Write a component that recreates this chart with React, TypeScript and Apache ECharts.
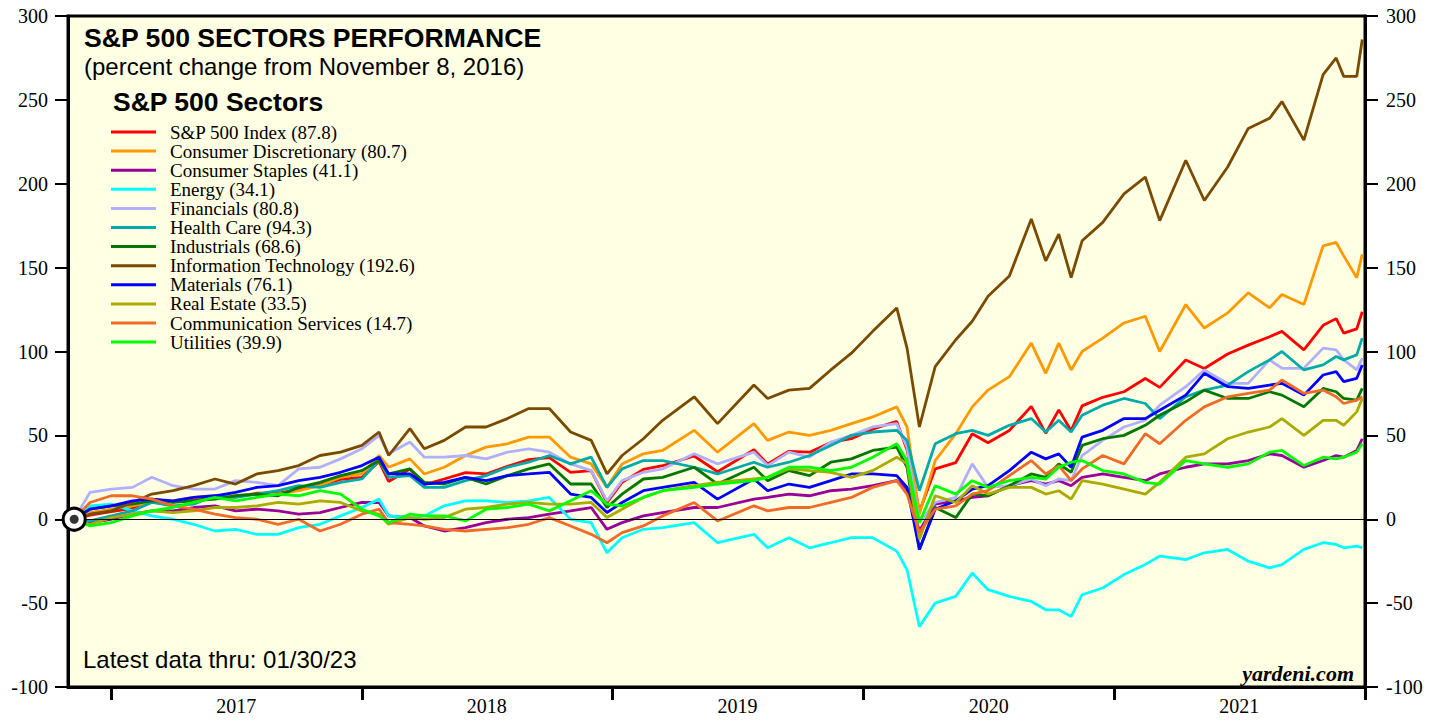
import React, { useEffect, useRef } from "react";
import * as echarts from "echarts";

const DATES = [
  "2016-11-08","2016-12-01","2017-01-01","2017-02-01","2017-03-01","2017-04-01","2017-05-01","2017-06-01","2017-07-01","2017-08-01","2017-09-01","2017-10-01","2017-11-01","2017-12-01",
  "2018-01-01","2018-01-26","2018-02-09","2018-03-12","2018-04-02","2018-05-01","2018-06-01","2018-07-01","2018-08-01","2018-09-01","2018-10-01","2018-11-01","2018-12-01","2018-12-24",
  "2019-01-15","2019-02-15","2019-03-15","2019-04-30","2019-06-03","2019-07-26","2019-08-15","2019-09-15","2019-10-15","2019-11-15","2019-12-15",
  "2020-01-15","2020-02-19","2020-03-05","2020-03-23","2020-04-15","2020-05-15","2020-06-08","2020-07-01","2020-08-01","2020-09-02","2020-09-23","2020-10-12","2020-10-30","2020-11-15","2020-12-15",
  "2021-01-15","2021-02-15","2021-03-08","2021-04-15","2021-05-12","2021-06-15","2021-07-15","2021-08-15","2021-09-02","2021-10-04","2021-11-01","2021-11-20","2021-12-01","2021-12-20","2021-12-28",
];

const SECTORS = [
  "S&P 500 Index","Consumer Discretionary","Consumer Staples","Energy","Financials","Health Care",
  "Industrials","Information Technology","Materials","Real Estate","Communication Services","Utilities",
];
const LEGEND_VALUES = [87.8, 80.7, 41.1, 34.1, 80.8, 94.3, 68.6, 192.6, 76.1, 33.5, 14.7, 39.9];
const COLORS = ["#ff0000","#ff9900","#990099","#00ffff","#b0b0ff","#00aaaa","#007700","#7a4a00","#0000ff","#aaaa00","#f06a28","#00ff00"];

const SP500 = [
  0, 2.4, 4.6, 6.5, 12, 10.4, 11.4, 12.7, 13.3, 15.5, 15.5, 17.7, 20.4, 23.8,
  25, 34.3, 22.5, 30, 20.7, 24, 27.8, 27, 31.5, 35.6, 36.7, 28, 29, 9.9,
  22, 29.7, 31.9, 37.7, 28.3, 41.4, 33, 40.5, 40, 45.8, 48,
  53.7, 58.3, 41.3, 4.5, 30, 33.8, 51, 45.6, 52.9, 67.3, 51.3, 65.2, 52.8, 67.6, 72.7,
  76, 83.9, 78.6, 94.9, 89.9, 98.5, 103.8, 108.8, 112, 101, 115.6, 119.6, 111, 113.5, 123.7,
];
const CONS_DISC = [
  0, 4, 6, 8, 10, 11, 13, 14, 14, 15, 15, 17, 20, 25,
  27, 38, 31, 36, 27, 31, 38, 43, 45, 49, 49, 37, 33, 19,
  33, 39, 41, 53, 40, 57, 47, 52, 50, 53, 57,
  61, 67, 55, 3, 35, 51, 67, 77, 85, 105, 87, 105, 89, 100, 108,
  117, 121, 100, 128, 114, 123, 135, 126, 134, 128, 163, 165, 157, 144, 158,
];
const CONS_STAPLES = [
  0, -2, 0, 3, 5, 5, 7, 8, 5, 6, 5, 3, 4, 7,
  10, 10, 2, 1, -4, -7, -5, -2, 0, 1, 3, 5, 7, -6,
  -2, 2, 4, 7, 7, 12, 13, 15, 14, 17, 18,
  20, 23, 18, -7, 9, 11, 13, 14, 20, 23, 21, 23, 20, 25, 27,
  25, 23, 27, 31, 33, 33, 35, 39, 38, 31, 35, 38, 37, 41, 48,
];
const ENERGY = [
  0, 8, 9, 5, 2, 0, -3, -7, -6, -9, -9, -5, -3, 2,
  7, 12, 2, 1, 2, 8, 11, 11, 10, 11, 13, 0, -2, -20,
  -11, -6, -5, -2, -14, -9, -17, -11, -17, -14, -11,
  -11, -19, -30, -64, -50, -46, -32, -42, -46, -49, -54, -54, -58, -45, -41,
  -33, -27, -22, -24, -20, -18, -25, -29, -27, -18, -14, -15, -17, -16, -17,
];
const FINANCIALS = [
  0, 16, 18, 19, 25, 20, 18, 18, 23, 22, 20, 30, 31, 36,
  42, 50, 39, 46, 37, 37, 38, 36, 40, 42, 40, 33, 29, 11,
  23, 28, 30, 39, 33, 40, 32, 40, 37, 46, 50,
  55, 57, 43, -2, 10, 13, 33, 19, 20, 24, 20, 24, 23, 38, 47,
  55, 59, 68, 79, 89, 81, 81, 95, 90, 90, 102, 101, 95, 89, 96,
];
const HEALTH_CARE = [
  0, -1, 2, 5, 10, 8, 9, 14, 13, 15, 17, 20, 19, 22,
  24, 35, 25, 26, 19, 19, 23, 26, 31, 34, 38, 33, 37, 19,
  30, 35, 35, 31, 27, 34, 31, 34, 38, 44, 50,
  52, 53, 47, 17, 45, 51, 53, 50, 56, 60, 52, 59, 52, 62, 68,
  72, 69, 60, 73, 77, 80, 88, 95, 100, 89, 92, 97, 95, 98, 108,
];
const INDUSTRIALS = [
  0, 6, 8, 9, 11, 10, 11, 12, 14, 15, 14, 19, 22, 26,
  29, 35, 27, 30, 22, 21, 25, 21, 26, 30, 33, 21, 21, 7,
  15, 24, 25, 31, 21, 31, 23, 29, 26, 34, 36,
  41, 43, 31, -18, 7, 1, 15, 14, 20, 27, 25, 33, 28, 44, 48,
  50, 56, 62, 70, 77, 72, 72, 76, 74, 67, 78, 76, 72, 71, 78,
];
const INFO_TECH = [
  0, 3, 5, 10, 15, 17, 20, 24, 21, 27, 29, 32, 38, 40,
  44, 52, 38, 54, 42, 47, 55, 55, 60, 66, 66, 52, 47, 27,
  38, 48, 59, 73, 57, 80, 72, 77, 78, 89, 99,
  112, 126, 102, 55, 91, 107, 118, 133, 145, 179, 154, 170, 144, 166, 177,
  194, 204, 178, 214, 190, 210, 233, 239, 249, 226, 265, 275, 264, 264, 286,
];
const MATERIALS = [
  0, 6, 8, 11, 12, 11, 13, 14, 16, 19, 20, 23, 25, 28,
  32, 37, 27, 27, 21, 22, 25, 23, 26, 27, 28, 15, 13, 4,
  10, 17, 19, 22, 12, 24, 17, 21, 19, 23, 27,
  27, 26, 19, -18, 6, 11, 18, 20, 29, 40, 36, 39, 31, 49, 53,
  60, 60, 65, 74, 87, 79, 78, 80, 81, 74, 86, 88, 82, 84, 92,
];
const REAL_ESTATE = [
  0, -3, 1, 3, 5, 4, 5, 7, 7, 8, 10, 9, 11, 10,
  5, 3, -3, 1, 0, 1, 6, 7, 9, 10, 9, 9, 10, 1,
  6, 13, 17, 20, 22, 24, 25, 30, 29, 28, 25,
  29, 37, 33, -12, 14, 10, 20, 15, 19, 19, 15, 17, 12, 23, 21,
  18, 15, 22, 37, 39, 48, 52, 55, 60, 50, 59, 59, 56, 64, 72,
];
const COMM_SERVICES = [
  0, 10, 14, 14, 12, 8, 6, 3, 1, 0, -3, 0, -7, -3,
  3, 6, -2, -3, -4, -6, -7, -6, -5, -3, 1, -4, -9, -14,
  -8, -4, 2, 10, -1, 8, 5, 7, 7, 10, 13,
  19, 23, 15, -8, 6, 8, 15, 17, 26, 35, 27, 32, 23, 30, 38,
  33, 51, 45, 59, 67, 73, 75, 77, 83, 75, 77, 73, 69, 71, 73,
];
const UTILITIES = [
  0, -4, -2, 2, 5, 7, 10, 13, 11, 13, 15, 14, 17, 15,
  6, 2, -2, 3, 2, 2, -1, 6, 7, 9, 5, 11, 17, 9,
  8, 13, 17, 19, 21, 23, 25, 31, 31, 29, 31,
  37, 45, 35, -2, 20, 15, 23, 19, 23, 25, 24, 31, 34, 35, 29,
  27, 22, 21, 35, 33, 31, 33, 40, 41, 32, 37, 36, 37, 40, 45,
];

const SERIES_VALUES = [
  SP500, CONS_DISC, CONS_STAPLES, ENERGY, FINANCIALS, HEALTH_CARE,
  INDUSTRIALS, INFO_TECH, MATERIALS, REAL_ESTATE, COMM_SERVICES, UTILITIES,
];

const X_MIN = "2016-10-30";
const X_MAX = "2022-01-01";
const YEAR_TICKS = ["2017-01-01","2018-01-01","2019-01-01","2020-01-01","2021-01-01","2022-01-01"];
const YEAR_LABEL_POS = ["2017-07-02","2018-07-02","2019-07-02","2020-07-02","2021-07-02"];
const Y_MIN = -100;
const Y_MAX = 300;
const Y_STEP = 50;

const ts = (s: string) => new Date(s + "T00:00:00Z").getTime();

export default function App() {
  const ref = useRef<HTMLDivElement>(null);
  useEffect(() => {
    if (!ref.current) return;
    const chart = echarts.init(ref.current, undefined, { renderer: "svg" });
    const serif = "Liberation Serif";
    const sans = "Liberation Sans";
    const yAxisBase = {
      type: "value",
      min: Y_MIN,
      max: Y_MAX,
      interval: Y_STEP,
      splitLine: { show: false },
      axisLine: { show: true, onZero: false, lineStyle: { color: "#000", width: 3 } },
      axisTick: { show: true, inside: false, length: 13, lineStyle: { color: "#000", width: 2 } },
    };
    const lineSeries = SECTORS.map((name, i) => ({
      name,
      type: "line",
      data: DATES.map((d, j) => [ts(d), SERIES_VALUES[i][j]]),
      showSymbol: false,
      symbol: "none",
      color: COLORS[i],
      lineStyle: { width: 2.8, color: COLORS[i] },
      itemStyle: { color: COLORS[i] },
      emphasis: { disabled: true },
      z: 3,
    }));
    const option: any = {
      animation: false,
      backgroundColor: "#ffffff",
      grid: {
        left: 68, right: 75, top: 16, bottom: 34,
        show: true, backgroundColor: "#ffffe3", borderColor: "#000", borderWidth: 3,
      },
      xAxis: {
        type: "value",
        min: ts(X_MIN),
        max: ts(X_MAX),
        splitLine: { show: false },
        axisLine: { show: true, onZero: false, lineStyle: { color: "#000", width: 3 } },
        axisTick: {
          show: true, inside: false, length: 13,
          lineStyle: { color: "#000", width: 3 },
          customValues: YEAR_TICKS.map(ts),
        },
        axisLabel: {
          show: true,
          customValues: YEAR_LABEL_POS.map(ts),
          formatter: (v: number) => String(new Date(v).getUTCFullYear()),
          color: "#000", fontFamily: serif, fontSize: 20, margin: 9,
        },
      },
      yAxis: [
        { ...yAxisBase, position: "left",
          axisLabel: { color: "#000", fontFamily: serif, fontSize: 20, margin: 20 } },
        { ...yAxisBase, position: "right",
          axisLabel: { color: "#000", fontFamily: serif, fontSize: 20, margin: 21 } },
      ],
      legend: {
        data: SECTORS,
        orient: "vertical",
        left: 111,
        top: 122.5,
        padding: 0,
        itemWidth: 45,
        itemHeight: 3,
        itemGap: 0.1,
        icon: "rect",
        selectedMode: false,
        textStyle: { fontFamily: serif, fontSize: 19, color: "#000", padding: [0, 0, 0, 9] },
        formatter: (name: string) => `${name} (${LEGEND_VALUES[SECTORS.indexOf(name)].toFixed(1)})`,
      },
      graphic: [
        { type: "text", x: 84, y: 38, style: { text: "S&P 500 SECTORS PERFORMANCE", font: `bold 26.6px "${sans}"`, fill: "#000", align: "left", verticalAlign: "middle" } },
        { type: "text", x: 84, y: 66, style: { text: "(percent change from November 8, 2016)", font: `24px "${sans}"`, fill: "#000", align: "left", verticalAlign: "middle" } },
        { type: "text", x: 113, y: 102, style: { text: "S&P 500 Sectors", font: `bold 26.5px "${sans}"`, fill: "#000", align: "left", verticalAlign: "middle" } },
        { type: "text", x: 83, y: 659, style: { text: "Latest data thru: 01/30/23", font: `24px "${sans}"`, fill: "#000", align: "left", verticalAlign: "middle" } },
        { type: "text", x: 1354, y: 673, style: { text: "yardeni.com", font: `italic bold 22px "${serif}"`, fill: "#000", align: "right", verticalAlign: "middle" } },
      ],
      series: [
        {
          name: "zero",
          type: "line",
          data: [],
          silent: true,
          z: 2,
          markLine: {
            silent: true, symbol: "none", label: { show: false },
            lineStyle: { color: "#000", width: 1, type: "solid" },
            data: [{ yAxis: 0 }],
          },
        },
        ...lineSeries,
        {
          name: "start",
          type: "scatter",
          data: [[ts(DATES[0]), SP500[0]]],
          symbol: "circle",
          symbolSize: 22,
          itemStyle: { color: "#ffffff", borderColor: "#000", borderWidth: 3, opacity: 1 },
          silent: true,
          z: 10,
        },
        {
          name: "startDot",
          type: "scatter",
          data: [[ts(DATES[0]), SP500[0]]],
          symbol: "circle",
          symbolSize: 9,
          itemStyle: { color: "#000" },
          silent: true,
          z: 11,
        },
      ],
    };
    chart.setOption(option);
    return () => chart.dispose();
  }, []);
  return <div ref={ref} style={{ position: "fixed", left: 0, top: 0, width: 1440, height: 721 }} />;
}
